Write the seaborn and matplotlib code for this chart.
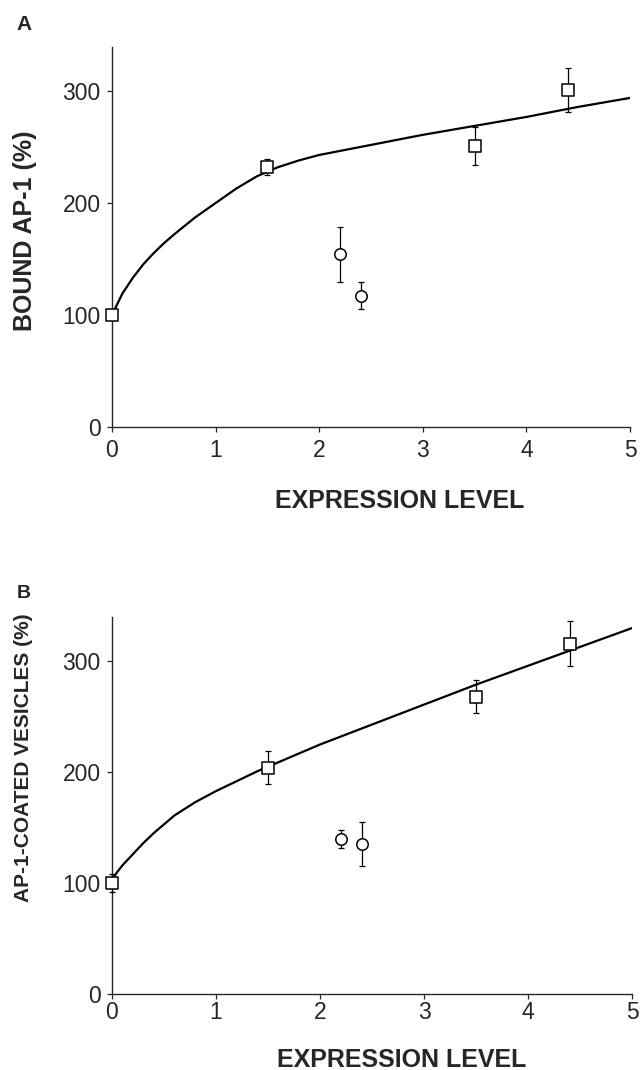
import matplotlib
matplotlib.use("Agg")
import matplotlib.pyplot as plt
import seaborn as sns

# Panel A - bound AP-1
a_sq_x = [0, 1.5, 3.5, 4.4]
a_sq_y = [100, 232, 251, 301]
a_sq_err = [4, 7, 17, 20]
a_ci_x = [2.2, 2.4]
a_ci_y = [154, 117]
a_ci_err = [25, 12]
a_fit_x = [0, 0.1, 0.2, 0.3, 0.4, 0.5, 0.6, 0.8, 1.0, 1.2, 1.4, 1.6, 1.8, 2.0, 2.5, 3.0, 3.5, 4.0, 4.5, 5.0]
a_fit_y = [100, 119, 133, 145, 155, 164, 172, 187, 200, 213, 224, 232, 238, 243, 252, 261, 269, 277, 286, 294]

# Panel B - AP-1-coated vesicles
b_sq_x = [0, 1.5, 3.5, 4.4]
b_sq_y = [100, 204, 268, 316]
b_sq_err = [8, 15, 15, 20]
b_ci_x = [2.2, 2.4]
b_ci_y = [140, 135]
b_ci_err = [8, 20]
b_fit_x = [0, 0.05, 0.1, 0.2, 0.3, 0.4, 0.5, 0.6, 0.8, 1.0, 1.2, 1.4, 1.6, 2.0, 2.5, 3.0, 3.5, 4.0, 4.5, 5.0]
b_fit_y = [103, 110, 116, 126, 136, 145, 153, 161, 173, 183, 192, 201, 209, 225, 243, 261, 279, 296, 313, 330]

x_ticks = [0, 1, 2, 3, 4, 5]
y_ticks = [0, 100, 200, 300]

sns.set_style("ticks")
plt.rcParams['font.family'] = ['Liberation Sans', 'DejaVu Sans']


def draw_panel(ax, fit_x, fit_y, sq_x, sq_y, sq_err, ci_x, ci_y, ci_err, xpad):
    sns.lineplot(x=fit_x, y=fit_y, ax=ax, color="black", lw=1.6, zorder=2)
    for xs, ys, es in [(sq_x, sq_y, sq_err), (ci_x, ci_y, ci_err)]:
        ax.errorbar(xs, ys, yerr=es, fmt="none", ecolor="black",
                    elinewidth=0.9, capsize=2, capthick=0.9, zorder=3, clip_on=False)
    sns.scatterplot(x=sq_x, y=sq_y, ax=ax, marker="s", s=70, clip_on=False,
                    facecolor="white", edgecolor="black", linewidth=1.1, zorder=4)
    sns.scatterplot(x=ci_x, y=ci_y, ax=ax, marker="o", s=68, clip_on=False,
                    facecolor="white", edgecolor="black", linewidth=1.1, zorder=4)
    ax.set_xlim(0, 5)
    ax.set_ylim(0, 340)
    ax.set_xticks(x_ticks)
    ax.set_yticks(y_ticks)
    ax.tick_params(labelsize=16.5, length=3.6, width=0.9, direction="out")
    ax.tick_params(axis="y", pad=4.5)
    ax.tick_params(axis="x", pad=xpad)
    sns.despine(ax=ax)
    for s in ["left", "bottom"]:
        ax.spines[s].set_linewidth(1.0)
    ax.set_xlabel("")
    ax.set_ylabel("")


W, H = 642, 1070
fig = plt.figure(figsize=(W / 100, H / 100), dpi=100)
ax_a = fig.add_axes([112 / W, 1 - 426.7 / H, 518 / W, 380.2 / H])
ax_b = fig.add_axes([112 / W, 1 - 994 / H, 520 / W, 377 / H])

draw_panel(ax_a, a_fit_x, a_fit_y, a_sq_x, a_sq_y, a_sq_err, a_ci_x, a_ci_y, a_ci_err, 5)
draw_panel(ax_b, b_fit_x, b_fit_y, b_sq_x, b_sq_y, b_sq_err, b_ci_x, b_ci_y, b_ci_err, 1.5)

fig.text(24 / W, 1 - 30 / H, "A", fontsize=15, fontweight="bold", ha="center", va="baseline")
fig.text(23.5 / W, 1 - 598 / H, "B", fontsize=14, fontweight="bold", ha="center", va="baseline")

fig.text(25 / W, 1 - 230.5 / H, "BOUND AP-1 (%)", rotation=90, fontsize=18,
         fontweight="bold", ha="center", va="center")
fig.text(24 / W, 1 - 757.5 / H, "AP-1-COATED VESICLES (%)", rotation=90, fontsize=15,
         fontweight="bold", ha="center", va="center")

fig.text(400 / W, 1 - 508 / H, "EXPRESSION LEVEL", fontsize=18,
         fontweight="bold", ha="center", va="baseline")
fig.text(402 / W, 1 - 1067 / H, "EXPRESSION LEVEL", fontsize=18,
         fontweight="bold", ha="center", va="baseline")

fig.savefig("out.png", dpi=100)
